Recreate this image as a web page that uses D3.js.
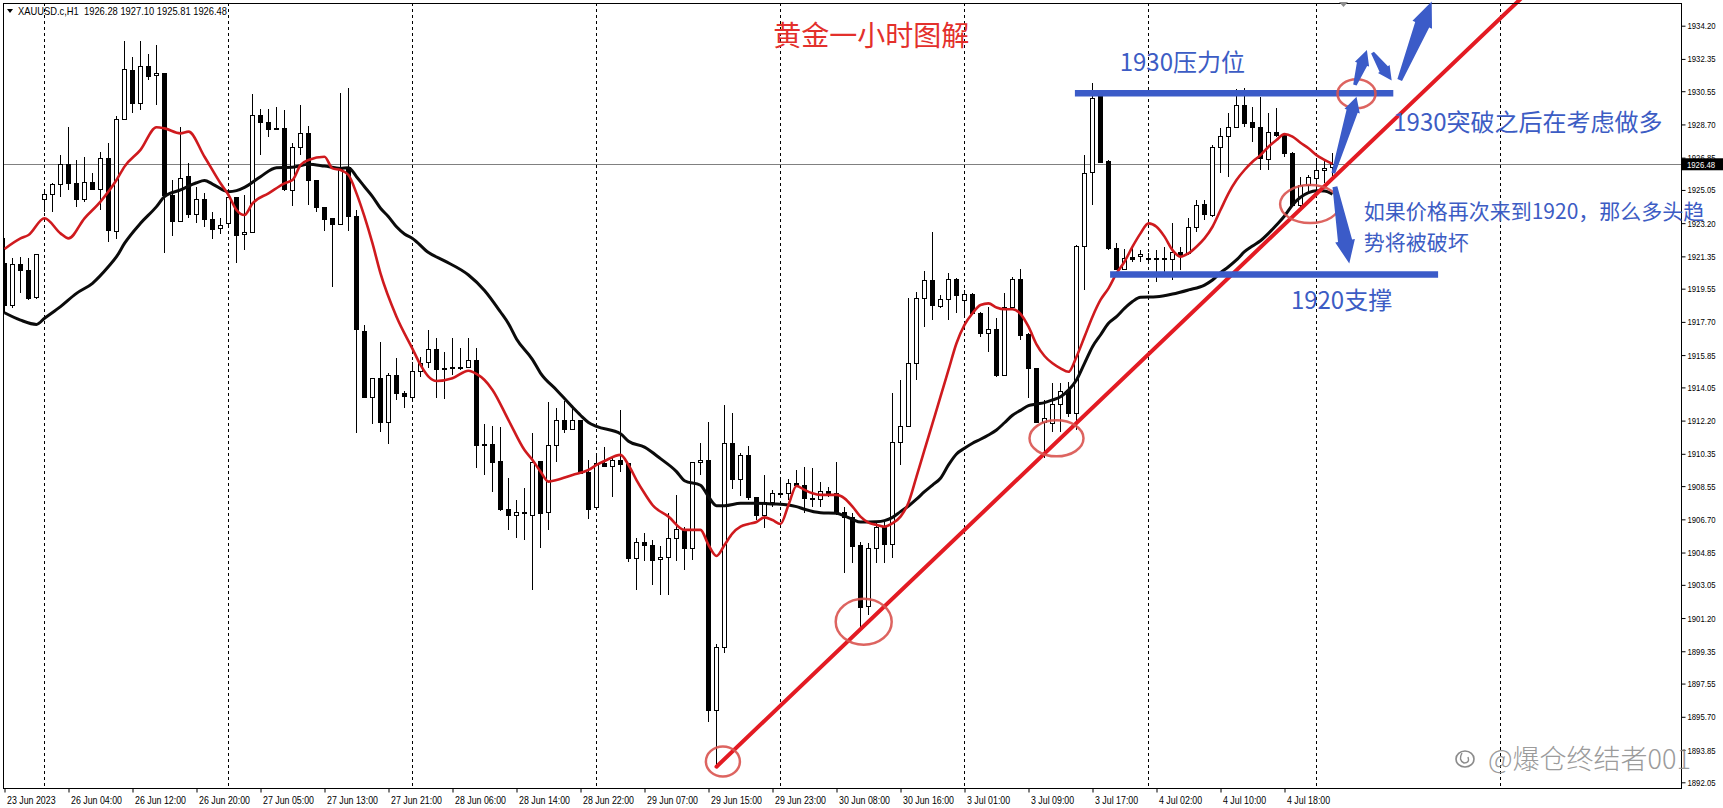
<!DOCTYPE html>
<html>
<head>
<meta charset="utf-8">
<script src="https://cdn.jsdelivr.net/npm/d3@7/dist/d3.min.js"></script>
<style>
  html, body { margin: 0; padding: 0; background: #fff; }
  svg { display: block; }
  .ax text, .tag { font-family: Tahoma, "Liberation Sans", "DejaVu Sans", sans-serif; fill: #000; }
  .tag { fill: #fff; }
  .cjk { font-family: "Noto Sans CJK SC", "Microsoft YaHei", sans-serif; }
</style>
</head>
<body>
<svg id="chart" width="1723" height="808"></svg>
<script>
// XAUUSD H1, 23 Jun - 5 Jul 2023, one value per bar (bar 0 = leftmost)
var openP = [1920.96,1918.64,1920.87,1920.59,1919.05,1924.53,1924.77,1925.33,1926.44,1925.42,
  1924.53,1925.47,1925.08,1926.81,1922.72,1928.95,1931.73,1929.87,1931.95,1931.40,
  1931.51,1924.73,1923.28,1925.79,1923.69,1924.53,1923.41,1922.91,1923.19,1924.64,
  1922.54,1922.69,1929.22,1928.80,1928.48,1928.48,1925.01,1927.42,1928.20,1925.60,
  1924.08,1923.47,1923.13,1926.31,1923.56,1917.19,1913.48,1914.55,1912.08,1914.74,
  1913.72,1913.48,1914.96,1915.45,1916.17,1915.11,1915.09,1915.11,1915.15,1915.54,
  1910.88,1910.88,1909.91,1907.26,1906.94,1907.09,1906.94,1909.91,1907.09,1910.84,
  1912.23,1911.71,1912.18,1909.30,1907.37,1909.82,1909.67,1909.95,1909.82,1904.53,
  1905.40,1905.23,1904.44,1904.57,1905.64,1906.11,1905.09,1909.86,1909.97,1896.04,
  1899.57,1910.90,1908.93,1910.23,1907.93,1906.94,1907.63,1908.15,1908.15,1908.71,
  1908.61,1907.87,1907.82,1908.24,1908.15,1907.07,1906.81,1905.22,1901.84,1905.09,
  1906.24,1905.27,1910.97,1911.86,1915.39,1919.01,1920.03,1918.55,1918.96,1920.07,
  1918.88,1919.24,1918.18,1917.06,1917.30,1914.74,1918.50,1920.07,1916.97,1915.11,
  1912.10,1912.05,1913.07,1913.87,1912.57,1921.89,1926.01,1930.24,1926.62,1921.80,
  1920.63,1921.28,1921.33,1921.24,1921.24,1921.24,1921.18,1921.55,1921.52,1922.95,
  1924.25,1923.65,1927.40,1928.02,1928.54,1929.78,1928.81,1928.54,1926.77,1928.24,
  1928.11,1927.09,1924.21,1925.32,1925.70,1926.16,1926.28];
var highP = [1922.35,1921.24,1921.33,1921.24,1921.46,1925.05,1925.42,1927.00,1928.57,1926.72,
  1926.90,1925.97,1927.18,1927.65,1929.17,1933.35,1932.44,1933.35,1932.62,1933.12,
  1931.58,1925.60,1928.54,1926.53,1925.23,1924.86,1923.84,1923.47,1924.68,1924.68,
  1924.77,1930.38,1929.56,1929.56,1929.65,1929.50,1927.65,1929.78,1928.63,1925.60,
  1924.12,1923.47,1930.47,1930.71,1923.93,1917.53,1914.55,1916.60,1914.83,1915.71,
  1913.85,1915.48,1915.76,1917.25,1916.78,1916.04,1916.78,1916.23,1916.78,1916.23,
  1911.99,1911.90,1911.86,1908.99,1907.78,1908.43,1911.49,1909.91,1913.26,1912.88,
  1913.29,1913.01,1912.23,1910.01,1910.34,1910.75,1910.23,1912.79,1909.82,1905.64,
  1905.92,1905.55,1905.22,1907.04,1908.06,1906.29,1909.91,1910.94,1912.14,1899.74,
  1913.07,1912.61,1910.42,1910.79,1907.96,1909.17,1908.34,1909.08,1908.93,1909.45,
  1909.64,1909.54,1908.80,1908.52,1909.88,1907.41,1907.04,1905.46,1905.36,1906.48,
  1906.57,1913.76,1914.46,1919.01,1919.38,1920.55,1922.73,1919.20,1920.41,1920.13,
  1919.48,1919.29,1918.27,1918.55,1917.90,1919.30,1920.22,1920.63,1917.06,1915.11,
  1913.35,1914.28,1914.28,1914.37,1921.98,1926.99,1930.99,1930.43,1926.72,1922.11,
  1921.74,1921.89,1921.70,1921.52,1921.70,1921.89,1923.19,1921.89,1923.47,1924.49,
  1924.49,1927.55,1928.48,1929.32,1930.65,1930.71,1929.69,1930.24,1929.32,1929.59,
  1928.20,1927.18,1925.79,1925.88,1926.81,1926.72,1927.10];
var lowP = [1918.18,1918.45,1919.29,1918.92,1918.96,1923.84,1923.84,1924.68,1925.05,1924.12,
  1924.40,1925.05,1923.93,1922.13,1922.32,1928.95,1929.32,1929.50,1931.17,1929.78,
  1921.52,1922.50,1923.28,1923.47,1923.23,1923.00,1922.32,1922.58,1923.00,1920.96,
  1921.70,1922.63,1927.00,1927.98,1928.39,1924.99,1924.17,1927.00,1924.21,1923.80,
  1922.78,1919.66,1923.13,1922.78,1911.49,1913.44,1911.99,1911.58,1910.88,1913.35,
  1912.88,1913.35,1914.65,1915.15,1913.44,1913.39,1914.74,1915.02,1915.11,1909.54,
  1909.17,1908.21,1907.17,1906.11,1905.68,1905.55,1902.76,1905.09,1906.11,1909.88,
  1911.49,1911.68,1909.26,1906.72,1907.31,1909.63,1907.93,1909.36,1904.34,1902.76,
  1904.40,1903.04,1902.49,1902.49,1904.40,1903.88,1904.44,1909.17,1895.43,1892.92,
  1899.24,1908.37,1908.00,1907.78,1906.66,1906.20,1907.41,1908.06,1907.78,1908.52,
  1907.04,1907.41,1907.37,1907.96,1906.94,1903.69,1904.25,1900.63,1901.37,1904.25,
  1904.25,1904.53,1909.73,1911.83,1914.46,1917.43,1917.81,1918.46,1917.81,1918.18,
  1918.08,1918.08,1916.88,1916.04,1914.65,1914.68,1918.50,1916.69,1913.44,1912.05,
  1910.10,1911.58,1911.58,1912.42,1911.67,1919.48,1924.21,1926.53,1921.70,1920.59,
  1920.59,1921.05,1921.05,1920.96,1919.94,1920.50,1920.03,1920.59,1921.42,1922.72,
  1923.37,1923.56,1925.97,1925.75,1928.48,1928.57,1927.74,1926.16,1926.16,1928.02,
  1926.86,1924.12,1923.93,1924.86,1925.04,1925.42,1925.81];
var closeP = [1918.64,1920.87,1920.59,1919.01,1921.46,1924.77,1925.33,1926.44,1925.42,1924.53,
  1925.47,1925.08,1926.81,1922.78,1928.95,1931.77,1929.87,1931.95,1931.36,1931.55,
  1924.73,1923.28,1925.70,1923.69,1924.53,1923.41,1922.86,1923.06,1924.64,1922.50,
  1922.69,1929.22,1928.80,1928.43,1928.39,1925.05,1927.42,1928.20,1925.57,1924.08,
  1923.43,1923.13,1926.20,1923.56,1917.25,1913.48,1914.55,1912.08,1914.74,1913.72,
  1913.53,1914.96,1915.39,1916.17,1915.06,1915.06,1915.15,1915.15,1915.54,1910.80,
  1910.80,1909.86,1907.22,1906.90,1907.09,1907.00,1909.88,1907.04,1910.84,1912.23,
  1911.68,1912.18,1909.26,1907.26,1909.82,1909.67,1909.95,1909.77,1904.53,1905.40,
  1905.23,1904.40,1904.57,1905.64,1906.11,1905.09,1909.88,1909.97,1896.04,1899.57,
  1910.94,1908.93,1910.23,1907.93,1906.94,1907.63,1908.15,1908.09,1908.71,1908.56,
  1907.87,1907.78,1908.24,1908.11,1907.04,1906.81,1905.18,1901.78,1905.09,1906.24,
  1905.27,1910.97,1911.86,1915.39,1919.01,1920.03,1918.60,1918.96,1920.07,1919.16,
  1919.24,1918.18,1917.06,1917.30,1914.74,1918.50,1920.07,1916.93,1915.11,1912.10,
  1912.32,1913.07,1913.81,1912.57,1921.89,1925.97,1930.15,1926.57,1921.80,1920.63,
  1921.24,1921.20,1921.48,1921.20,1921.18,1921.15,1921.55,1921.42,1922.95,1924.21,
  1923.69,1927.40,1928.02,1928.52,1929.78,1928.76,1928.54,1926.81,1928.24,1928.07,
  1927.09,1924.21,1925.32,1925.73,1926.16,1926.25,1926.48];

// moving averages: [bar, price]
var maFast = [[0,1921.76],[2,1922.35],[3,1922.54],[5,1923.47],[7,1922.63],[8,1922.35],[10,1923.47],
  [12,1924.40],[14,1925.60],[15,1926.35],[17,1927.28],[19,1928.54],[20,1928.48],[22,1928.20],
  [23,1928.30],[25,1926.90],[27,1925.42],[28,1924.77],[29,1923.93],[30,1923.65],[31,1924.30],
  [33,1924.86],[35,1925.42],[36,1925.60],[37,1926.44],[38,1926.72],[40,1926.90],[41,1926.25],
  [42,1926.16],[43,1925.88],[44,1924.86],[45,1923.56],[46,1922.07],[47,1920.40],[49,1917.99],
  [51,1916.20],[52,1915.30],[53,1914.65],[54,1914.41],[56,1914.56],[58,1914.98],[59,1914.80],
  [60,1914.46],[61,1913.91],[63,1912.23],[65,1910.56],[66,1910.01],[67,1909.36],[68,1908.80],
  [69,1908.89],[71,1909.17],[73,1909.45],[74,1909.73],[75,1909.95],[77,1910.29],[78,1909.73],
  [79,1908.89],[80,1908.15],[81,1907.50],[83,1906.85],[85,1906.11],[87,1906.11],[88,1905.27],
  [89,1904.66],[90,1905.27],[91,1905.92],[92,1906.29],[93,1906.44],[94,1906.55],[95,1906.81],
  [96,1906.66],[97,1906.44],[98,1907.50],[99,1908.56],[100,1908.34],[101,1908.15],[102,1908.06],
  [104,1908.06],[105,1907.87],[106,1907.41],[107,1906.85],[108,1906.52],[109,1906.39],[110,1906.29],
  [111,1906.48],[112,1906.85],[113,1907.63],[114,1909.08],[115,1910.57],[116,1912.05],[117,1913.53],
  [118,1915.02],[119,1916.51],[120,1917.53],[121,1918.18],[122,1918.64],[123,1918.73],[124,1918.50],
  [125,1918.40],[126,1918.40],[127,1918.15],[128,1917.43],[129,1916.45],[130,1915.80],[131,1915.39],
  [132,1915.11],[133,1914.92],[134,1915.76],[135,1916.87],[136,1917.99],[137,1918.92],[138,1919.57],
  [139,1920.40],[140,1921.05],[141,1921.89],[142,1922.63],[143,1923.19],[144,1923.00],[145,1922.45],
  [146,1921.70],[147,1921.33],[148,1921.52],[149,1921.89],[150,1922.35],[151,1923.00],[152,1923.93],
  [153,1924.86],[154,1925.60],[155,1926.16],[156,1926.62],[157,1926.99],[158,1927.46],[159,1927.83],
  [160,1928.16],[161,1928.02],[162,1927.68],[163,1927.37],[164,1926.99],[165,1926.72],[166,1926.50]];
var maSlow = [[0,1918.21],[2,1917.80],[4,1917.56],[5,1917.90],[7,1918.55],[9,1919.29],[11,1919.85],
  [13,1920.78],[14,1921.33],[15,1922.07],[17,1923.19],[19,1924.12],[20,1924.68],[22,1925.05],
  [24,1925.45],[25,1925.57],[26,1925.38],[28,1924.95],[29,1925.01],[30,1925.19],[32,1925.79],
  [34,1926.29],[36,1926.31],[38,1926.48],[40,1926.38],[42,1926.25],[43,1926.29],[44,1925.79],
  [45,1925.23],[46,1924.68],[47,1924.03],[48,1923.56],[49,1923.00],[50,1922.60],[51,1922.35],
  [53,1921.56],[55,1921.10],[58,1920.31],[60,1919.45],[62,1918.25],[63,1917.60],[64,1916.75],
  [66,1915.60],[67,1914.85],[69,1913.91],[71,1912.95],[72,1912.50],[73,1912.10],[74,1911.88],
  [77,1911.47],[78,1911.05],[80,1910.72],[82,1910.08],[84,1909.36],[85,1908.85],[87,1908.60],
  [88,1907.96],[89,1907.46],[90,1907.46],[92,1907.59],[94,1907.60],[96,1907.56],[98,1907.50],
  [99,1907.41],[100,1907.26],[102,1907.07],[104,1907.04],[105,1906.89],[106,1906.70],[107,1906.55],
  [109,1906.57],[110,1906.63],[111,1906.81],[112,1907.13],[113,1907.44],[114,1907.82],[115,1908.24],
  [116,1908.61],[117,1908.99],[118,1909.73],[119,1910.34],[120,1910.66],[121,1910.94],[122,1911.16],
  [123,1911.40],[124,1911.68],[125,1912.08],[126,1912.50],[127,1912.77],[128,1913.03],[129,1913.12],
  [130,1913.20],[131,1913.35],[132,1913.53],[133,1913.90],[134,1914.46],[135,1915.39],[136,1916.32],
  [137,1916.97],[138,1917.62],[139,1917.99],[140,1918.45],[141,1918.83],[142,1919.07],[144,1919.10],
  [146,1919.25],[148,1919.48],[150,1919.75],[151,1920.03],[152,1920.44],[153,1920.77],[154,1921.15],
  [155,1921.61],[156,1921.93],[157,1922.22],[158,1922.63],[159,1923.10],[160,1923.60],[161,1924.21],
  [162,1924.64],[163,1924.90],[164,1925.01],[165,1924.99],[166,1924.82]];

var priceTicks = [1934.20,1932.35,1930.55,1928.70,1926.85,1925.05,1923.20,1921.35,1919.55,1917.70,
  1915.85,1914.05,1912.20,1910.35,1908.55,1906.70,1904.85,1903.05,1901.20,1899.35,1897.55,
  1895.70,1893.85,1892.05];
var timeLabels = ["23 Jun 2023","26 Jun 04:00","26 Jun 12:00","26 Jun 20:00","27 Jun 05:00",
  "27 Jun 13:00","27 Jun 21:00","28 Jun 06:00","28 Jun 14:00","28 Jun 22:00","29 Jun 07:00",
  "29 Jun 15:00","29 Jun 23:00","30 Jun 08:00","30 Jun 16:00","3 Jul 01:00","3 Jul 09:00",
  "3 Jul 17:00","4 Jul 02:00","4 Jul 10:00","4 Jul 18:00"];
var dayStarts = [5, 28, 51, 74, 97, 120, 143, 164, 187];
var lastPrice = 1926.48;
var headerText = "XAUUSD.c,H1  1926.28 1927.10 1925.81 1926.48";

// drawings on the chart, in bar / price units
var trendLine = [[89, 1892.92], [190, 1935.90]];
var levels = [[133.8, 173.6, 1930.43], [138.2, 179.2, 1920.34]];
var rings = [[89.8, 1893.21, 17, 15], [107.4, 1900.99, 28, 23], [131.5, 1911.21, 27, 18],
  [163.2, 1924.26, 30, 19], [169.0, 1930.41, 19, 14.5]];
var arrows = [[166.1, 1925.98, 169.0, 1930.24, 15, 16], [168.8, 1930.90, 170.3, 1932.85, 15, 15],
  [171.0, 1932.70, 173.4, 1931.14, 14, 14], [174.4, 1931.18, 178.4, 1935.54, 25, 21],
  [166.3, 1925.23, 168.1, 1920.96, 23, 20]];
var notes = [
  {t: "黄金一小时图解", i: 96.1, p: 1933.07, size: 28, color: "#e3302c"},
  {t: "1930压力位", i: 139.4, p: 1931.65, size: 24, color: "#3c5cc4"},
  {t: "1930突破之后在考虑做多", i: 173.6, p: 1928.31, size: 24, color: "#3c5cc4"},
  {t: "如果价格再次来到1920，那么多头趋", i: 169.9, p: 1923.43, size: 21, color: "#3c5cc4"},
  {t: "势将被破坏", i: 169.9, p: 1921.70, size: 21, color: "#3c5cc4"},
  {t: "1920支撑", i: 160.8, p: 1918.39, size: 24, color: "#3c5cc4"}
];

var svg = d3.select("#chart"),
    width = +svg.attr("width"),
    height = +svg.attr("height");
var plot = {left: 3, top: 3, right: 1681, bottom: 788};

var x = d3.scaleLinear().domain([0, 1]).range([4.5, 12.5]);
var y = d3.scaleLinear().domain([1934.20, 1892.05]).range([25.7, 782.3]);

svg.append("rect").attr("width", width).attr("height", height).attr("fill", "#fff");

svg.append("defs").append("clipPath").attr("id", "plotclip")
  .append("rect")
  .attr("x", plot.left).attr("y", 0)
  .attr("width", plot.right - plot.left).attr("height", plot.bottom);

var g = svg.append("g").attr("clip-path", "url(#plotclip)");

// day separators
g.selectAll("line.day")
  .data(dayStarts)
  .enter().append("line")
  .attr("class", "day")
  .attr("x1", function(d) { return x(d); })
  .attr("x2", function(d) { return x(d); })
  .attr("y1", plot.top).attr("y2", plot.bottom)
  .attr("stroke", "#000").attr("stroke-width", 1)
  .attr("stroke-dasharray", "3,3")
  .attr("shape-rendering", "crispEdges");

// bid line
g.append("line")
  .attr("x1", plot.left).attr("x2", plot.right)
  .attr("y1", Math.round(y(lastPrice)) + 0.5).attr("y2", Math.round(y(lastPrice)) + 0.5)
  .attr("stroke", "#808080").attr("stroke-width", 1);

var bars = d3.range(openP.length).map(function(i) {
  return {i: i, o: openP[i], h: highP[i], l: lowP[i], c: closeP[i]};
});

var candle = g.append("g").attr("class", "candles")
  .attr("shape-rendering", "crispEdges")
  .selectAll("g")
  .data(bars)
  .enter().append("g");

candle.append("line")
  .attr("x1", function(d) { return x(d.i); })
  .attr("x2", function(d) { return x(d.i); })
  .attr("y1", function(d) { return y(d.h); })
  .attr("y2", function(d) { return y(d.l); })
  .attr("stroke", "#000");

candle.append("rect")
  .attr("x", function(d) { return x(d.i) - 2; })
  .attr("width", 4)
  .attr("y", function(d) { return y(Math.max(d.o, d.c)); })
  .attr("height", function(d) { return Math.max(1, Math.abs(y(d.o) - y(d.c))); })
  .attr("fill", function(d) { return d.c >= d.o ? "#fff" : "#000"; })
  .attr("stroke", "#000");

var maLine = d3.line()
  .x(function(d) { return x(d[0]); })
  .y(function(d) { return y(d[1]); })
  .curve(d3.curveMonotoneX);

g.append("path").datum(maSlow)
  .attr("d", maLine)
  .attr("fill", "none").attr("stroke", "#0b0b0b").attr("stroke-width", 3);

g.append("path").datum(maFast)
  .attr("d", maLine)
  .attr("fill", "none").attr("stroke", "#cf1a1e").attr("stroke-width", 2.6);

// frame + axes
svg.append("rect")
  .attr("x", plot.left + 0.5).attr("y", plot.top + 0.5)
  .attr("width", plot.right - plot.left).attr("height", plot.bottom - plot.top)
  .attr("fill", "none").attr("stroke", "#000").attr("stroke-width", 1);

var yAxis = svg.append("g")
  .attr("class", "ax")
  .attr("transform", "translate(" + (plot.right + 0.5) + ",0)")
  .call(d3.axisRight(y).tickValues(priceTicks).tickSize(4).tickPadding(2)
    .tickFormat(d3.format(".2f")));
yAxis.select(".domain").remove();
yAxis.selectAll("text")
  .style("font-size", "9.5px")
  .attr("textLength", 28).attr("lengthAdjust", "spacingAndGlyphs");

var xAxis = svg.append("g")
  .attr("class", "ax")
  .attr("transform", "translate(0," + (plot.bottom + 0.5) + ")")
  .call(d3.axisBottom(x).tickValues(d3.range(0, timeLabels.length * 8, 8)).tickSize(4)
    .tickFormat(function(d, k) { return timeLabels[k]; }));
xAxis.select(".domain").remove();
xAxis.selectAll("text")
  .style("font-size", "10.5px")
  .attr("text-anchor", "start")
  .attr("x", 2).attr("dy", "0.85em")
  .each(function() {
    var w = this.getComputedTextLength();
    d3.select(this).attr("textLength", w * 0.84).attr("lengthAdjust", "spacingAndGlyphs");
  });

// last price tag
var tagY = y(lastPrice);
svg.append("rect")
  .attr("x", plot.right + 1).attr("y", tagY - 6)
  .attr("width", width - plot.right - 1).attr("height", 12)
  .attr("fill", "#000");
svg.append("text")
  .attr("class", "tag")
  .attr("x", plot.right + 6).attr("y", tagY + 3.5)
  .style("font-size", "9.5px")
  .attr("textLength", 28).attr("lengthAdjust", "spacingAndGlyphs")
  .text(d3.format(".2f")(lastPrice));

// header
svg.append("path").attr("d", "M7,9 L13,9 L10,13 Z").attr("fill", "#000");
svg.append("text")
  .attr("x", 18).attr("y", 15)
  .style("font-family", "Tahoma, 'Liberation Sans', sans-serif")
  .style("font-size", "10.5px")
  .attr("textLength", 209).attr("lengthAdjust", "spacingAndGlyphs")
  .attr("xml:space", "preserve")
  .text(headerText);

// chart shift marker
svg.append("path").attr("d", "M1339,2 L1348,2 L1343.5,7 Z").attr("fill", "#8c8c8c");

// trend line
g.append("line")
  .attr("x1", x(trendLine[0][0])).attr("y1", y(trendLine[0][1]))
  .attr("x2", x(trendLine[1][0])).attr("y2", y(trendLine[1][1]))
  .attr("stroke", "#e31b23").attr("stroke-width", 4).attr("stroke-linecap", "round");

// support / resistance bars
svg.selectAll("line.level")
  .data(levels)
  .enter().append("line")
  .attr("class", "level")
  .attr("x1", function(d) { return x(d[0]); })
  .attr("x2", function(d) { return x(d[1]); })
  .attr("y1", function(d) { return y(d[2]); })
  .attr("y2", function(d) { return y(d[2]); })
  .attr("stroke", "#3b5bc8").attr("stroke-width", 6.5);

svg.selectAll("ellipse.ring")
  .data(rings)
  .enter().append("ellipse")
  .attr("class", "ring")
  .attr("cx", function(d) { return x(d[0]); })
  .attr("cy", function(d) { return y(d[1]); })
  .attr("rx", function(d) { return d[2]; })
  .attr("ry", function(d) { return d[3]; })
  .attr("fill", "none").attr("stroke", "#d9534f")
  .attr("stroke-width", 2.5).attr("opacity", 0.9);

function arrowPath(d) {
  var x0 = x(d[0]), y0 = y(d[1]), x1 = x(d[2]), y1 = y(d[3]);
  var hl = d[4], hw = d[5];
  var len = Math.hypot(x1 - x0, y1 - y0);
  var ux = (x1 - x0) / len, uy = (y1 - y0) / len;
  var nx = -uy, ny = ux;
  var w0 = hw * 0.12, w1 = hw * 0.36;
  var bx = x1 - ux * hl, by = y1 - uy * hl;
  var pts = [
    [x0 + nx * w0, y0 + ny * w0],
    [bx + nx * w1, by + ny * w1],
    [bx + nx * hw / 2, by + ny * hw / 2],
    [x1, y1],
    [bx - nx * hw / 2, by - ny * hw / 2],
    [bx - nx * w1, by - ny * w1],
    [x0 - nx * w0, y0 - ny * w0]
  ];
  return "M" + pts.map(function(p) { return p[0].toFixed(1) + "," + p[1].toFixed(1); }).join("L") + "Z";
}

svg.selectAll("path.arrow")
  .data(arrows)
  .enter().append("path")
  .attr("class", "arrow")
  .attr("d", arrowPath)
  .attr("fill", "#3b5bc8");

svg.selectAll("text.note")
  .data(notes)
  .enter().append("text")
  .attr("class", "note cjk")
  .attr("x", function(d) { return x(d.i); })
  .attr("y", function(d) { return y(d.p); })
  .attr("fill", function(d) { return d.color; })
  .style("font-size", function(d) { return d.size + "px"; })
  .text(function(d) { return d.t; });

// watermark
var wm = svg.append("g").attr("opacity", 0.85);
wm.append("ellipse").attr("cx", 1465).attr("cy", 759).attr("rx", 9).attr("ry", 8)
  .attr("fill", "none").attr("stroke", "#777").attr("stroke-width", 1.6);
wm.append("path").attr("d", "M1462,753 Q1458,760 1464,763 Q1470,763 1468,757")
  .attr("fill", "none").attr("stroke", "#777").attr("stroke-width", 1.4);
wm.append("text")
  .attr("class", "cjk")
  .attr("x", 1488).attr("y", 769)
  .attr("fill", "#8a8a8a")
  .style("font-size", "27px")
  .style("font-weight", "300")
  .text("@爆仓终结者001");
</script>
</body>
</html>
